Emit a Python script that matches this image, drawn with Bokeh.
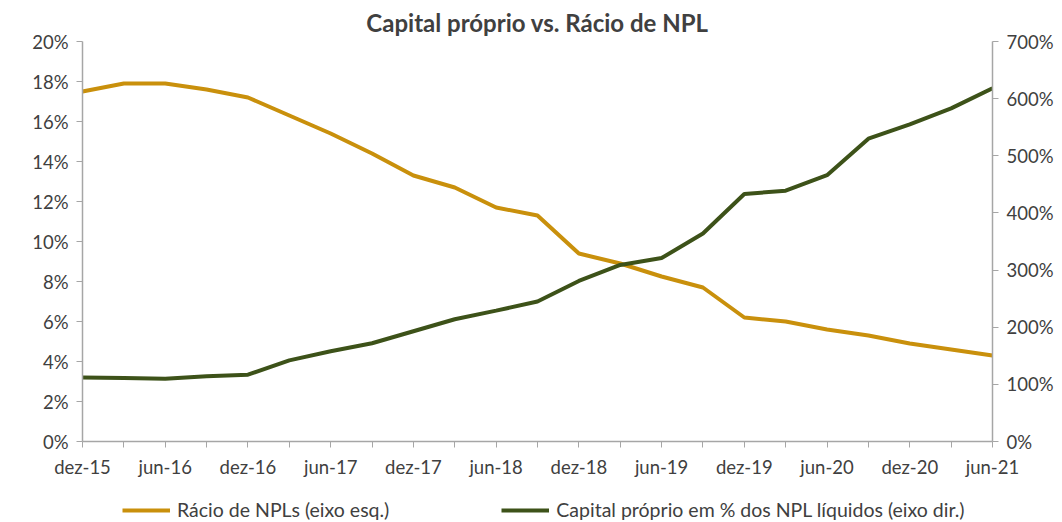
from bokeh.plotting import figure
from bokeh.layouts import column
from bokeh.models import (Range1d, LinearAxis, FixedTicker, PrintfTickFormatter,
                          Legend, LegendItem)
from bokeh.embed import file_html
from bokeh.resources import INLINE

quarters = ["dez-15", "mar-16", "jun-16", "set-16", "dez-16", "mar-17", "jun-17", "set-17",
            "dez-17", "mar-18", "jun-18", "set-18", "dez-18", "mar-19", "jun-19", "set-19",
            "dez-19", "mar-20", "jun-20", "set-20", "dez-20", "mar-21", "jun-21"]
npl_ratio = [17.5, 17.9, 17.9, 17.6, 17.2, 16.3, 15.4, 14.4, 13.3, 12.7, 11.7, 11.3,
             9.4, 8.9, 8.25, 7.7, 6.2, 6.0, 5.6, 5.3, 4.9, 4.6, 4.3]
capital_pct = [112, 111, 110, 114, 117, 142, 158, 172, 193, 214, 229, 245,
               281, 309, 321, 364, 433, 439, 466, 530, 555, 583, 618]
left_ticks = [0, 2, 4, 6, 8, 10, 12, 14, 16, 18, 20]
right_ticks = [0, 100, 200, 300, 400, 500, 600, 700]
series_names = ["Rácio de NPLs (eixo esq.)",
                "Capital próprio em % dos NPL líquidos (eixo dir.)"]

FONT = "Lato"
GOLD = "#C9900C"
GREEN = "#3D5219"
AXIS = "#A6A6A6"
TXT = "#404040"
FS = "18.5px"

x = list(range(len(quarters)))

p = figure(width=1062, height=490, output_backend="svg", toolbar_location=None,
           x_range=Range1d(0, len(quarters) - 1), y_range=Range1d(0, 20),
           min_border_left=82, min_border_right=70, min_border_top=41, min_border_bottom=49)
p.extra_y_ranges = {"right": Range1d(0, 700)}
p.outline_line_color = None
p.xgrid.visible = False
p.ygrid.visible = False
p.background_fill_color = "white"
p.border_fill_color = "white"

p.title.text = "Capital próprio vs. Rácio de NPL"
p.title.align = "center"
p.title.text_font = FONT
p.title.text_font_size = "24px"
p.title.text_font_style = "bold"
p.title.text_color = TXT
p.title.standoff = 10

p.line(x, npl_ratio, line_color=GOLD, line_width=4)
p.line(x, capital_pct, line_color=GREEN, line_width=4, y_range_name="right")

# x axis
xa = p.xaxis[0]
xa.ticker = FixedTicker(ticks=x[::2], minor_ticks=x[1::2])
xa.major_label_overrides = {i: quarters[i] for i in x}
for ax in [xa]:
    ax.axis_line_color = AXIS
    ax.axis_line_width = 1.5
    ax.major_tick_line_color = AXIS
    ax.minor_tick_line_color = AXIS
    ax.major_tick_out = 6
    ax.major_tick_in = 0
    ax.minor_tick_out = 6
    ax.minor_tick_in = 0
    ax.major_label_text_font = FONT
    ax.major_label_text_font_size = FS
    ax.major_label_text_color = TXT
    ax.major_label_standoff = 8

ya = p.yaxis[0]
ya.ticker = FixedTicker(ticks=left_ticks)
ya.formatter = PrintfTickFormatter(format="%d%%")

yr = LinearAxis(y_range_name="right", ticker=FixedTicker(ticks=right_ticks),
                formatter=PrintfTickFormatter(format="%d%%"))
p.add_layout(yr, "right")

for ax in [ya, yr]:
    ax.axis_line_color = AXIS
    ax.axis_line_width = 1.5
    ax.major_tick_line_color = AXIS
    ax.minor_tick_line_color = None
    ax.major_tick_out = 6
    ax.major_tick_in = 0
    ax.major_label_text_font = FONT
    ax.major_label_text_font_size = FS
    ax.major_label_text_color = TXT
    ax.major_label_standoff = 8

# legend strip below the chart (keys only; their lines lie outside the visible range)
lg = figure(width=1062, height=32, output_backend="svg", toolbar_location=None,
            x_range=Range1d(0, 1), y_range=Range1d(0, 1),
            min_border_left=0, min_border_right=0, min_border_top=0, min_border_bottom=0)
lg.axis.visible = False
lg.grid.visible = False
lg.outline_line_color = None
k1 = lg.line([-10, -9], [-10, -9], line_color=GOLD, line_width=4)
k2 = lg.line([-10, -9], [-10, -9], line_color=GREEN, line_width=4)
legend = Legend(items=[LegendItem(label=series_names[0], renderers=[k1]),
                       LegendItem(label=series_names[1], renderers=[k2])],
                orientation="horizontal", location=(40, 1),
                glyph_width=48, glyph_height=20, label_standoff=7, spacing=112,
                label_text_font=FONT, label_text_font_size="19.5px", label_text_color=TXT,
                border_line_color=None, background_fill_alpha=0, padding=0, margin=0)
lg.add_layout(legend, "center")

layout = column(p, lg, spacing=0)
open("out.html", "w").write(file_html(layout, INLINE))
